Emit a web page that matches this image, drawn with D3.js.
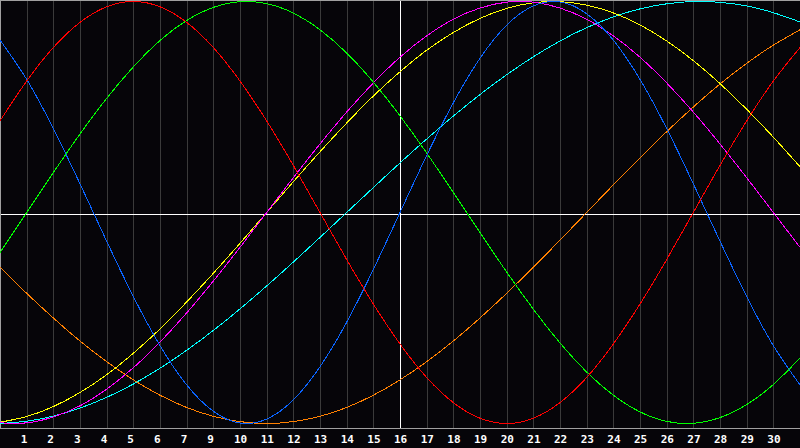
<!DOCTYPE html>
<html>
<head>
<meta charset="utf-8">
<script src="https://cdn.jsdelivr.net/npm/d3@7"></script>
<style>
  html, body { margin: 0; padding: 0; background: #060509; }
  svg { display: block; }
  .grid { stroke: #3a3a3a; stroke-width: 1; shape-rendering: crispEdges; }
  .frame { stroke: #a0a0a0; stroke-width: 1; shape-rendering: crispEdges; }
  .today, .zero { stroke: #ffffff; stroke-width: 1; shape-rendering: crispEdges; }
  .cycle { fill: none; stroke-width: 1; shape-rendering: crispEdges; }
  .day { fill: #ffffff; font-family: "DejaVu Sans Mono", monospace; font-weight: bold; font-size: 11px; }
</style>
</head>
<body>
<div id="chart"></div>
<script>
// labels under the grid lines (day 8 is missing in the original too)
var day_labels = ["1", "2", "3", "4", "5", "6", "7", "9", "10", "11", "12", "13", "14", "15",
  "16", "17", "18", "19", "20", "21", "22", "23", "24", "25", "26", "27", "28", "29", "30"];

// values in percent, one per day boundary (0..30)
var physical = [81.7, 63.1, 39.8, 13.6, -13.6, -39.8, -63.1, -81.7, -94.2, -99.8, -97.9, -88.8, -73.1, -52.0, -27.0, 0,
  27.0, 52.0, 73.1, 88.8, 97.9, 99.8, 94.2, 81.7, 63.1, 39.8, 13.6, -13.6, -39.8, -63.1, -81.7];
var emotional = [43.4, 62.3, 78.2, 90.1, 97.5, 100, 97.5, 90.1, 78.2, 62.3, 43.4, 22.3, 0, -22.3, -43.4, -62.3,
  -78.2, -90.1, -97.5, -100, -97.5, -90.1, -78.2, -62.3, -43.4, -22.3, 0, 22.3, 43.4, 62.3, 78.2];
var intellectual = [-18.9, 0, 18.9, 37.2, 54.1, 69.0, 81.5, 91.0, 97.2, 99.9, 99.0, 94.5, 86.6, 75.6, 61.8, 45.8,
  28.2, 9.5, -9.5, -28.2, -45.8, -61.8, -75.6, -86.6, -94.5, -99.0, -99.9, -97.2, -91.0, -81.5, -69.0];
var intuitive = [-99.7, -99.7, -96.9, -91.6, -83.7, -73.6, -61.4, -47.6, -32.5, -16.5, 0, 16.5, 32.5, 47.6, 61.4, 73.6,
  83.7, 91.6, 96.9, 99.7, 99.7, 96.9, 91.6, 83.7, 73.6, 61.4, 47.6, 32.5, 16.5, 0, -16.5];
var aesthetic = [-99.4, -96.7, -92.0, -85.3, -76.9, -66.7, -55.2, -42.4, -28.8, -14.6, 0, 14.6, 28.8, 42.4, 55.2, 66.7,
  76.9, 85.3, 92.0, 96.7, 99.4, 99.9, 98.3, 94.6, 88.9, 81.3, 72.0, 61.1, 48.9, 35.7, 21.7];
var awareness = [-25.9, -38.3, -50.0, -60.9, -70.7, -79.3, -86.6, -92.4, -96.6, -99.1, -100, -99.1, -96.6, -92.4, -86.6, -79.3,
  -70.7, -60.9, -50.0, -38.3, -25.9, -13.1, 0, 13.1, 25.9, 38.3, 50.0, 60.9, 70.7, 79.3, 86.6];
var spiritual = [-100, -98.9, -96.5, -92.7, -87.6, -81.3, -73.8, -65.3, -55.9, -45.7, -34.8, -23.5, -11.8, 0, 11.8, 23.5,
  34.8, 45.7, 55.9, 65.3, 73.8, 81.3, 87.6, 92.7, 96.5, 98.9, 100, 99.6, 97.9, 94.7, 90.3];

var today_index = 15;

function draw_chart(selector) {
  var width = 800, height = 448;
  var plot_bottom = 428;

  var svg = d3.select(selector).append("svg")
    .attr("width", width)
    .attr("height", height);

  var x = d3.scaleLinear().domain([0, 30]).range([0, width]);
  var y = d3.scaleLinear().domain([-100, 100]).range([423.5, 1.5]);

  var grid_days = d3.range(1, 30);

  // vertical day lines
  svg.selectAll("line.grid").data(grid_days).enter().append("line")
    .attr("class", "grid")
    .attr("x1", function(d) { return Math.round(x(d)) + 0.5; })
    .attr("x2", function(d) { return Math.round(x(d)) + 0.5; })
    .attr("y1", 0)
    .attr("y2", plot_bottom);

  // frame: top, left, bottom
  svg.append("line").attr("class", "frame").attr("x1", 0).attr("x2", width).attr("y1", 0.5).attr("y2", 0.5);
  svg.append("line").attr("class", "frame").attr("x1", 0.5).attr("x2", 0.5).attr("y1", 0).attr("y2", plot_bottom);
  svg.append("line").attr("class", "frame").attr("x1", 0).attr("x2", width)
    .attr("y1", plot_bottom + 0.5).attr("y2", plot_bottom + 0.5);

  // middle line and today marker
  svg.append("line").attr("class", "zero")
    .attr("x1", 1).attr("x2", width).attr("y1", 214.5).attr("y2", 214.5);
  svg.append("line").attr("class", "today")
    .attr("x1", Math.round(x(today_index)) + 0.5).attr("x2", Math.round(x(today_index)) + 0.5)
    .attr("y1", 1).attr("y2", plot_bottom);

  var cycles = [
    { values: awareness, color: "#ff8000" },
    { values: spiritual, color: "#00ffff" },
    { values: aesthetic, color: "#ffff00" },
    { values: intuitive, color: "#ff00ff" },
    { values: intellectual, color: "#00ff00" },
    { values: physical, color: "#0a64ff" },
    { values: emotional, color: "#ff0000" }
  ];

  var line = d3.line()
    .x(function(d, i) { return x(i); })
    .y(function(d) { return y(d); })
    .curve(d3.curveNatural);

  svg.selectAll("path.cycle").data(cycles).enter().append("path")
    .attr("class", "cycle")
    .attr("stroke", function(c) { return c.color; })
    .attr("d", function(c) { return line(c.values); });

  // day labels
  svg.selectAll("text.day").data(grid_days).enter().append("text")
    .attr("class", "day")
    .attr("x", function(d) { return x(d) - 6; })
    .attr("y", 443)
    .text(function(d, i) { return day_labels[i]; });
}

draw_chart("#chart");
</script>
</body>
</html>
